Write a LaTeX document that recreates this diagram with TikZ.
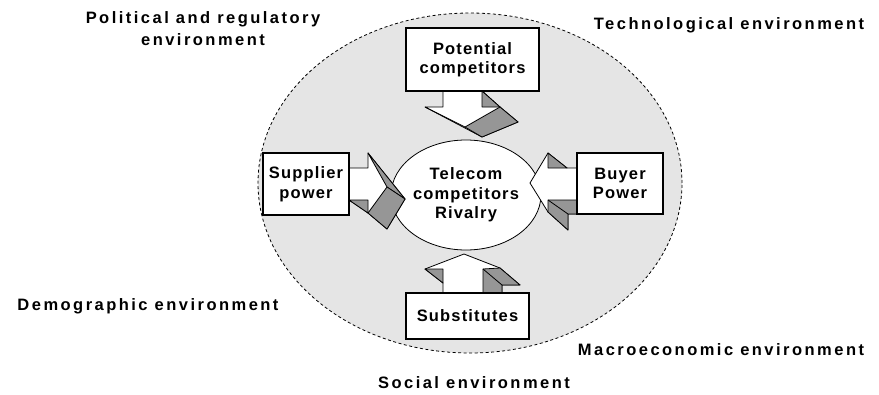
\documentclass[tikz,border=0pt]{standalone}
\usepackage{fontspec}
\setmainfont{Liberation Sans}
\newfontfamily\envfont[LetterSpace=15]{Liberation Sans}
\newfontfamily\boxfont[LetterSpace=7]{Liberation Sans}
\usetikzlibrary{shapes.geometric}
\definecolor{bg}{RGB}{229,229,229}
\definecolor{shade}{RGB}{150,150,150}
\tikzset{
  envlabel/.style={font=\envfont\bfseries\fontsize{16.5}{22}\selectfont, align=center, inner sep=0pt},
  boxlabel/.style={draw, fill=white, line width=1.2pt, font=\boxfont\bfseries\fontsize{16.5}{19.5}\selectfont, align=center, inner sep=0pt},
  face/.style={draw, line width=0.8pt, line join=round, fill=white},
  shaded/.style={draw, line width=0.8pt, line join=round, fill=shade},
}
\begin{document}
\begin{tikzpicture}[x=1pt,y=-1pt]
\useasboundingbox (0,0) rectangle (879,394);

% environment ellipse
\draw[fill=bg, line width=0.8pt, dash pattern=on 3pt off 2.5pt] (470,183) ellipse [x radius=212pt, y radius=170pt];

% central rivalry
\node[ellipse, draw, fill=white, line width=0.8pt, minimum width=125pt, minimum height=110pt, inner sep=0pt,
      font=\boxfont\bfseries\fontsize{16.5}{19.5}\selectfont, align=center] (rival) at (466,195) {Telecom\\competitors\\Rivalry};

% arrow from potential competitors (pointing down)
\path[face] (443,91) -- (443,107) -- (425,107) -- (482,137) -- (518,122) -- (500,107) -- (482,91) -- cycle;
\path[shaded] (482,91) -- (500,107) -- (482,107) -- cycle;
\path[shaded] (465,127) -- (500,107) -- (518,122) -- (482,137) -- cycle;
\draw[line width=0.8pt] (425,107) -- (465,127);

% arrow from supplier power (pointing right)
\path[face] (349,168) -- (368,168) -- (368,153) -- (405,199) -- (387,229) -- (368,213) -- (349,200) -- cycle;
\path[shaded] (349,200) -- (368,200) -- (368,213) -- cycle;
\path[shaded] (368,153) -- (405,199) -- (387,187) -- cycle;
\path[shaded] (387,187) -- (405,199) -- (387,229) -- (368,213) -- cycle;

% arrow from buyer power (pointing left)
\path[face] (577,168) -- (567,168) -- (548,153) -- (530,183) -- (548,212) -- (568,230) -- (568,214) -- (577,214) -- cycle;
\path[shaded] (548,153) -- (548,168) -- (567,168) -- cycle;
\path[shaded] (548,200) -- (577,200) -- (577,214) -- (568,214) -- (568,230) -- (548,212) -- cycle;
\draw[line width=0.8pt] (548,200) -- (568,214);

% arrow from substitutes (pointing up)
\path[face] (443,293) -- (443,283) -- (425,269) -- (464,254) -- (500,268) -- (520,285) -- (502,285) -- (502,293) -- cycle;
\path[shaded] (425,269) -- (443,269) -- (443,283) -- cycle;
\path[shaded] (483,269) -- (500,268) -- (520,285) -- (502,285) -- (502,293) -- (483,293) -- cycle;
\draw[line width=0.8pt] (483,269) -- (502,285);

% forces
\node[boxlabel, minimum width=133pt, minimum height=63pt] (pot) at (472.5,59.5) {Potential\\competitors};
\node[boxlabel, minimum width=86pt, minimum height=62pt] (sup) at (306,184) {Supplier\\power};
\node[boxlabel, minimum width=86pt, minimum height=61pt] (buy) at (620,183.5) {Buyer\\Power};
\node[boxlabel, minimum width=123pt, minimum height=46pt] (sub) at (467.5,316) {Substitutes};

% surrounding environments
\node[envlabel] (pol) at (203,29) {Political and regulatory\\environment};
\node[envlabel] (tech) at (729,25) {Technological environment};
\node[envlabel] (demo) at (148,306) {Demographic environment};
\node[envlabel] (macro) at (721,350) {Macroeconomic environment};
\node[envlabel] (soc) at (474,383) {Social environment};
\end{tikzpicture}
\end{document}
